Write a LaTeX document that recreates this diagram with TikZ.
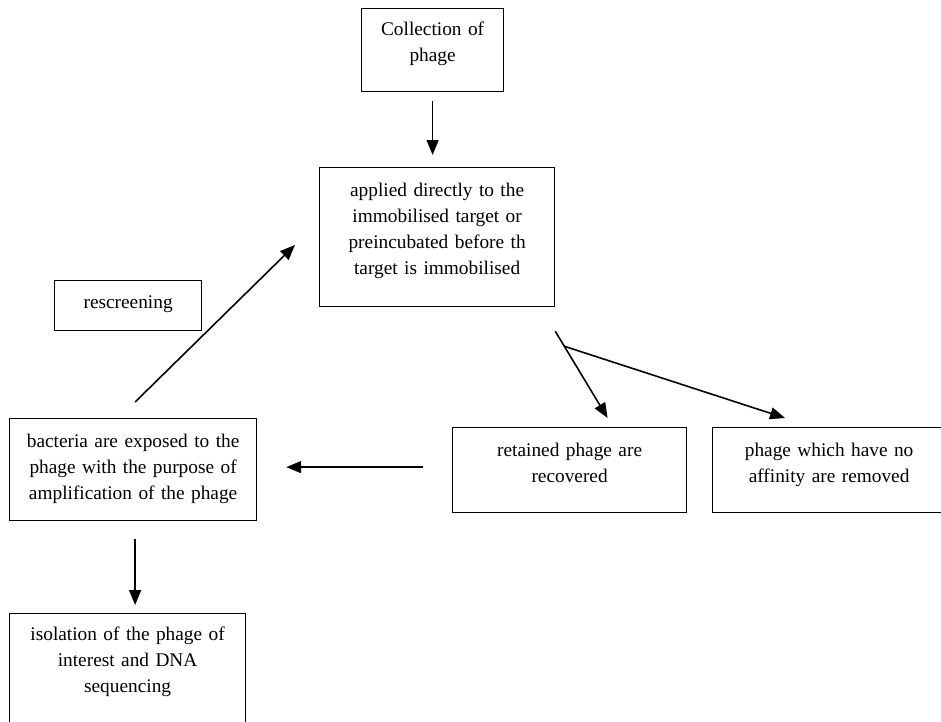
\documentclass[tikz,border=0pt]{standalone}
\usepackage{fontspec}
\setmainfont{Liberation Serif}
\usetikzlibrary{calc,arrows.meta}
\tikzset{
    box/.style n args={3}{draw, line width=0.7pt, align=center, inner sep=0pt,
        anchor=north west, text width=#1, text height=#2, text depth=#3,
        font=\fontsize{11}{14.8}\selectfont},
    flow/.style={line width=0.9pt, -{Triangle[length=3mm,width=2.4mm]}}
}

\begin{document}
\begin{tikzpicture}[x=0.2mm, y=-0.2mm]

    % Fix the page and cut what runs over its edges
    \clip (0,0) rectangle (941,721);

    % Draw the boxes of the screening steps
    \node[box={28.4mm}{5.4mm}{11.2mm}] (coll) at (361,8) {Collection of\\phage};
    \node[box={47mm}{5.8mm}{22mm}] (appl) at (319,167)
        {applied directly to the\\immobilised target or\\preincubated before th\\target is immobilised};
    \node[box={29.4mm}{5.6mm}{4.4mm}] (resc) at (54,280) {rescreening};
    \node[box={49.4mm}{5.8mm}{14.6mm}] (bact) at (9,418)
        {bacteria are exposed to the\\phage with the purpose of\\amplification of the phage};
    \node[box={46.8mm}{5.8mm}{11.2mm}] (retd) at (452,427) {retained phage are\\recovered};
    \node[box={46.6mm}{5.8mm}{11.2mm}] (lost) at (712,427) {phage which have no\\affinity are removed};
    \node[box={47.2mm}{5.4mm}{18mm}] (isol) at (9,613)
        {isolation of the phage of\\interest and DNA\\sequencing};

    % Free ends of the arrows, placed from the boxes
    \coordinate (fork) at ($(appl.south east)+(9,39)$);
    \coordinate (back) at ($(retd.west)+(-29,-3)$);

    % Draw the arrows
    \draw[flow] ($(coll.south)+(0,9)$) -- ($(coll.south |- appl.north)+(0,-12)$);
    \draw[flow] ($(appl.south east)+(0,24)$) -- ($(retd.north)+(38,-9)$);
    \draw[flow] (fork) -- ($(lost.north west)+(73,-9)$);
    \draw[flow] (back) -- ($(bact.east |- back)+(29,0)$);
    \draw[flow] ($(bact.north)+(2,-16)$) -- ($(appl.north west)+(-24,78)$);
    \draw[flow] ($(bact.south)+(2,18)$) -- ($(bact.south |- isol.north)+(2,-8)$);

\end{tikzpicture}
\end{document}
